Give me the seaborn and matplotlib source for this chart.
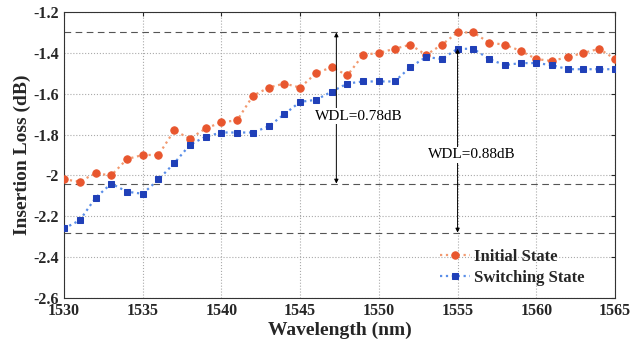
import numpy as np
import pandas as pd
import matplotlib
matplotlib.use("Agg")
import matplotlib.pyplot as plt
import seaborn as sns

wavelength = list(range(1530, 1566))
initial_state = [-2.02, -2.03, -1.99, -2.00, -1.92, -1.90, -1.90, -1.78, -1.82, -1.77,
                 -1.74, -1.73, -1.61, -1.57, -1.55, -1.57, -1.50, -1.47, -1.51, -1.41,
                 -1.40, -1.38, -1.36, -1.41, -1.36, -1.30, -1.30, -1.35, -1.36, -1.39,
                 -1.43, -1.44, -1.42, -1.40, -1.38, -1.43]
switching_state = [-2.26, -2.22, -2.11, -2.04, -2.08, -2.09, -2.02, -1.94, -1.85, -1.81,
                   -1.79, -1.79, -1.79, -1.76, -1.70, -1.64, -1.63, -1.59, -1.55, -1.54,
                   -1.54, -1.54, -1.47, -1.42, -1.43, -1.38, -1.38, -1.43, -1.46, -1.45,
                   -1.45, -1.46, -1.48, -1.48, -1.48, -1.48]
series_names = ["Initial State", "Switching State"]
ref_levels = [-1.30, -2.04, -2.28]
wdl_labels = ["WDL=0.78dB", "WDL=0.88dB"]
arrow_x = [1547.3, 1555.0]
arrow_spans = [(-1.30, -2.04), (-1.38, -2.28)]
text_pos = [(1548.7, -1.71), (1555.9, -1.90)]
x_ticks = list(range(1530, 1566, 5))
y_ticks = [-2.6, -2.4, -2.2, -2.0, -1.8, -1.6, -1.4, -1.2]
y_ticklabels = ["-2.6", "-2.4", "-2.2", "-2", "-1.8", "-1.6", "-1.4", "-1.2"]

df = pd.DataFrame({
    "Wavelength": wavelength * 2,
    "Loss": initial_state + switching_state,
    "State": [series_names[0]] * len(wavelength) + [series_names[1]] * len(wavelength),
})

sns.set_style("white")
plt.rcParams["font.family"] = ["Liberation Serif", "DejaVu Serif"]

fig = plt.figure(figsize=(6.34, 3.44), dpi=100)
ax = fig.add_axes([0.101, 0.134, 0.869, 0.831])

colors = {"Initial State": "#E8562E", "Switching State": "#2040B8"}
line_colors = {"Initial State": "#F29A70", "Switching State": "#5A8EE8"}
markers = {"Initial State": "o", "Switching State": "s"}
for name in series_names:
    sub = df[df["State"] == name]
    sns.lineplot(data=sub, x="Wavelength", y="Loss", ax=ax, color=line_colors[name],
                 linestyle=":", linewidth=1.6, marker=markers[name],
                 markersize=5.3 if name == series_names[0] else 4.8,
                 markerfacecolor=colors[name], markeredgecolor=colors[name],
                 label=name, zorder=3)

for lv in ref_levels:
    ax.axhline(lv, color="#555555", linestyle=(0, (6, 4)), linewidth=0.8, zorder=2)

for xa, (y1, y2) in zip(arrow_x, arrow_spans):
    ax.annotate("", xy=(xa, y1), xytext=(xa, y2),
                arrowprops=dict(arrowstyle="<|-|>", color="black", lw=0.7,
                                mutation_scale=6, shrinkA=0, shrinkB=0), zorder=4)

for (tx, ty), lab in zip(text_pos, wdl_labels):
    ax.text(tx, ty, lab, ha="center", va="center", fontsize=11, color="black",
            bbox=dict(facecolor="white", edgecolor="none", pad=1), zorder=5)

ax.set_xlim(1530, 1565)
ax.set_ylim(-2.6, -1.2)
ax.set_xticks(x_ticks)
ax.set_yticks(y_ticks)
ax.set_yticklabels(y_ticklabels)
ax.tick_params(direction="in", length=3, labelsize=11.5, top=True, right=True)
for lab in ax.get_xticklabels() + ax.get_yticklabels():
    lab.set_fontweight("bold")
ax.grid(True, linestyle=":", color="#aaaaaa", linewidth=0.8)
for sp in ax.spines.values():
    sp.set_color("#333333")
    sp.set_linewidth(0.8)

ax.set_xlabel("Wavelength (nm)", fontsize=14, fontweight="bold", labelpad=2)
ax.set_ylabel("Insertion Loss (dB)", fontsize=14, fontweight="bold", labelpad=2)

leg = ax.legend(loc="lower right", frameon=False, fontsize=12, handlelength=1.8,
                handletextpad=0.2, borderaxespad=0.3, labelspacing=0.3,
                bbox_to_anchor=(0.965, 0.0))
for t in leg.get_texts():
    t.set_fontweight("bold")

fig.savefig("out.png", dpi=100)
